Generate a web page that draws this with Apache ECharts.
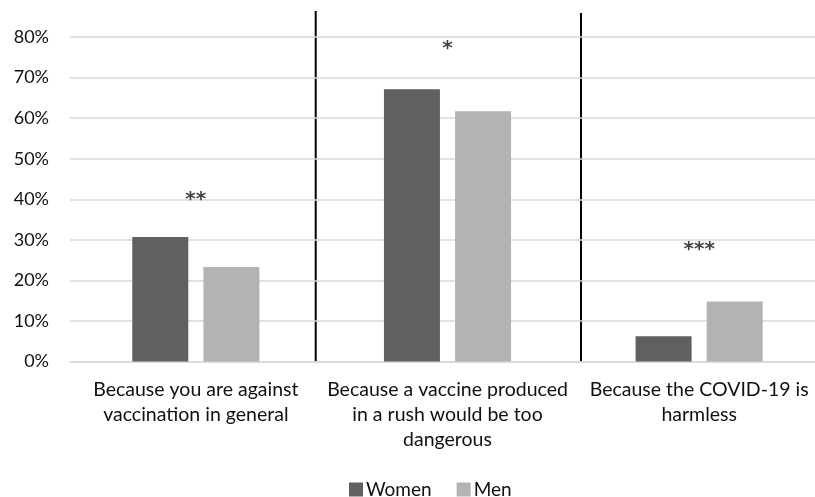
<!DOCTYPE html>
<html>
<head>
<meta charset="utf-8">
<script src="https://cdn.jsdelivr.net/npm/echarts@6/dist/echarts.min.js"></script>
<style>
  html, body { margin: 0; padding: 0; background: #fff; overflow: hidden; }
  #chart { width: 825px; height: 497px; }
</style>
</head>
<body>
<div id="chart"></div>
<script>
// Reasons for not wanting a COVID-19 vaccine, by gender (share of respondents, %)
const categories = [
  'Because you are against\nvaccination in general',
  'Because a vaccine produced\nin a rush would be too\ndangerous',
  'Because the COVID-19 is\nharmless'
];
const women = [30.7, 67.1, 6.2];
const men = [23.3, 61.7, 14.8];
// Significance markers and the height (in %) at which each one is shown
const sigMarks = ['**', '*', '***'];
const sigHeights = [40.9, 78.0, 28.6];
const yTicks = [0, 10, 20, 30, 40, 50, 60, 70, 80];

const FONT = 'Lato';
const TEXT = '#111111';

const chart = echarts.init(document.getElementById('chart'), null, { renderer: 'canvas' });

chart.setOption({
  animation: false,
  backgroundColor: '#ffffff',
  textStyle: { fontFamily: FONT, color: TEXT },
  grid: { left: 70, top: 37, right: 0, height: 324.5, containLabel: false },
  legend: {
    data: ['Women', 'Men'],
    top: 480,
    left: 349,
    padding: 0,
    icon: 'rect',
    itemWidth: 14,
    itemHeight: 14,
    itemGap: 25,
    textStyle: { fontFamily: FONT, fontSize: 19, color: TEXT, padding: [0, 0, 0, -2] }
  },
  xAxis: {
    type: 'category',
    data: categories,
    axisLine: { show: true, lineStyle: { color: '#d9d9d9', width: 1.5 } },
    axisTick: { show: false },
    axisLabel: {
      interval: 0,
      margin: 16,
      fontFamily: FONT,
      fontSize: 19.5,
      lineHeight: 25,
      color: TEXT,
      align: 'center'
    }
  },
  yAxis: {
    type: 'value',
    min: yTicks[0],
    max: yTicks[yTicks.length - 1],
    interval: 10,
    axisLine: { show: false },
    axisTick: { show: false },
    splitLine: { lineStyle: { color: '#d9d9d9', width: 1.5 } },
    axisLabel: {
      margin: 21,
      fontFamily: FONT,
      fontSize: 18,
      color: TEXT,
      formatter: v => v + '%'
    }
  },
  series: [
    {
      name: 'Women',
      type: 'bar',
      data: women,
      barWidth: 56,
      barGap: '27%',
      itemStyle: { color: '#606060' }
    },
    {
      name: 'Men',
      type: 'bar',
      data: men,
      barWidth: 56,
      itemStyle: { color: '#b3b3b3' }
    },
    {
      name: 'significance',
      type: 'scatter',
      data: sigHeights.map((h, i) => ({ value: [i, h], label: { formatter: sigMarks[i] } })),
      symbolSize: 0,
      silent: true,
      label: {
        show: true,
        position: 'inside',
        offset: [0, 4],
        fontFamily: 'DejaVu Sans',
        fontWeight: 'bold',
        fontSize: 20,
        color: TEXT
      },
      tooltip: { show: false }
    }
  ],
  // Vertical separators between the reason groups
  graphic: [
    { type: 'line', shape: { x1: 315.7, y1: 11, x2: 315.7, y2: 362 }, style: { stroke: '#000', lineWidth: 2 } },
    { type: 'line', shape: { x1: 581, y1: 13, x2: 581, y2: 362 }, style: { stroke: '#000', lineWidth: 2 } }
  ]
});
</script>
</body>
</html>
